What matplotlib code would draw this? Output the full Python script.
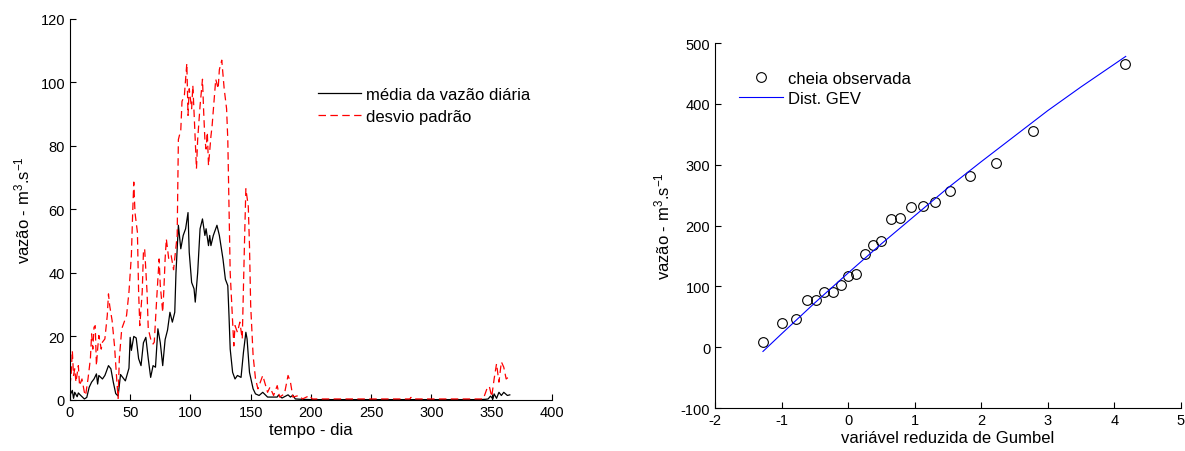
import matplotlib
matplotlib.use("Agg")
import matplotlib.pyplot as plt
import numpy as np

plt.rcParams.update({
    "font.family": ["Liberation Sans", "DejaVu Sans"],
    "mathtext.fontset": "custom",
    "mathtext.rm": "Liberation Sans",
    "mathtext.it": "Liberation Sans",
    "font.size": 10.5,
    "axes.unicode_minus": False,
    "xtick.direction": "in",
    "ytick.direction": "in",
})

# daily mean flow (m3/s)
mean_day = [0, 2, 3, 4, 6, 7, 9, 12, 14, 16, 18, 20, 22, 23, 24, 27, 29, 30, 32, 34,
            36, 38, 40, 42, 44, 46, 49, 50, 51, 53, 55, 57, 59, 61, 63, 65, 67, 69, 71, 73,
            75, 77, 79, 81, 83, 85, 87, 88, 90, 92, 94, 96, 98, 99, 101, 103, 104, 106, 108, 110,
            112, 113, 115, 116, 117, 119, 122, 124, 127, 129, 131, 132, 133, 135, 137, 139, 142, 144, 146, 147,
            149, 152, 154, 157, 160, 164, 172, 173, 176, 181, 183, 185, 187, 192, 200, 250, 300, 340, 345, 347,
            349, 351, 352, 354, 356, 358, 360, 363, 365]
mean_val = [1.4, 3.0, 0.5, 2.4, 1.0, 2.2, 1.4, 0.3, 0.8, 4.0, 5.6, 6.6, 8.2, 5.0, 7.7, 6.6, 7.7, 8.7, 10.8, 9.8,
            5.6, 2.0, 1.2, 8.0, 7.0, 6.0, 10.0, 19.7, 15.6, 20.0, 19.5, 13.0, 10.8, 18.0, 19.7, 13.0, 7.1, 10.8, 10.3, 22.4,
            18.0, 10.8, 19.0, 22.0, 27.6, 24.5, 27.6, 40.0, 55.0, 47.6, 51.8, 53.9, 59.0, 46.5, 37.0, 35.0, 30.8, 40.0, 53.9, 57.0,
            51.8, 53.9, 48.6, 51.8, 48.6, 51.8, 55.0, 51.8, 44.4, 38.0, 36.0, 26.6, 16.0, 8.7, 6.6, 7.7, 7.1, 15.0, 21.3, 19.2,
            8.7, 3.5, 1.9, 1.4, 2.4, 0.9, 0.9, 1.5, 0.6, 1.6, 0.9, 1.5, 0.3, 0.2, 0.1, 0.1, 0.1, 0.1, 0.2, 0.3,
            1.2, 0.3, 1.9, 0.5, 2.4, 1.4, 2.4, 1.4, 1.6]

# daily standard deviation
std_day = [0, 1, 2, 3, 4, 5, 7, 8, 10, 12, 13, 15, 17, 18, 19, 20, 21, 22, 23, 24,
           26, 27, 29, 31, 32, 33, 35, 37, 39, 40, 41, 43, 45, 47, 49, 51, 52, 53, 54, 56,
           57, 58, 60, 61, 62, 64, 65, 67, 69, 70, 72, 74, 75, 77, 78, 79, 80, 82, 84, 86,
           89, 90, 92, 93, 95, 97, 98, 99, 101, 102, 103, 105, 106, 108, 110, 111, 112, 113, 114, 115,
           117, 118, 120, 121, 123, 124, 126, 128, 130, 131, 132, 133, 135, 136, 137, 139, 141, 143, 145, 146,
           148, 149, 150, 152, 154, 156, 158, 160, 164, 166, 169, 172, 174, 178, 181, 183, 185, 190, 193, 199,
           201, 230, 282, 283, 284, 343, 346, 348, 350, 352, 354, 356, 358, 360, 362, 365]
std_val = [4.5, 7.7, 15.5, 7.7, 9.8, 5.6, 10.8, 4.5, 6.6, 2.4, 1.4, 6.6, 13.0, 20.8, 16.0, 22.9, 23.4, 10.8, 16.0, 20.3,
           16.0, 18.2, 19.2, 26.6, 33.4, 29.7, 25.0, 17.0, 5.6, 0.5, 13.0, 22.4, 24.5, 26.6, 34.0, 45.5, 58.0, 68.6, 59.0, 52.8,
           34.0, 23.4, 34.0, 46.5, 47.6, 34.0, 22.4, 19.2, 17.6, 18.2, 31.8, 44.4, 36.0, 27.6, 35.0, 44.4, 50.7, 44.4, 45.5, 41.0,
           51.8, 82.0, 85.0, 94.0, 96.0, 106.0, 89.6, 98.0, 91.7, 99.0, 90.6, 72.8, 82.0, 92.7, 101.0, 90.6, 82.0, 79.0, 84.3, 73.8,
           83.0, 86.4, 96.0, 101.0, 98.0, 104.0, 107.0, 98.0, 91.7, 82.0, 61.0, 40.0, 24.5, 17.0, 23.4, 21.3, 24.5, 19.2, 51.8, 66.5,
           61.0, 48.6, 29.7, 14.0, 6.6, 3.5, 5.6, 7.7, 2.4, 4.0, 1.4, 4.5, 0.9, 1.9, 7.7, 5.6, 0.9, 1.4, 0.3, 1.4,
           0.3, 0.3, 0.3, 0.8, 0.3, 0.3, 3.5, 4.3, 1.0, 6.6, 11.4, 5.6, 12.0, 10.3, 6.6, 7.5]

# annual floods vs Gumbel reduced variate (right panel)
gumbel_obs = [-1.28, -0.99, -0.78, -0.62, -0.49, -0.36, -0.23, -0.10, 0.00, 0.12, 0.25, 0.37,
              0.49, 0.64, 0.78, 0.94, 1.12, 1.31, 1.53, 1.83, 2.22, 2.78, 4.16]
flood_obs = [8, 40, 47, 77, 77, 91, 91, 103, 117, 120, 154, 168,
             174, 211, 212, 230, 232, 238, 256, 281, 302, 355, 466]
gumbel_fit = [-1.28, -1.0, -0.5, 0.0, 0.5, 1.0, 1.5, 2.0, 2.5, 3.0, 3.5, 4.17]
flood_fit = [-7, 22, 73, 122, 170, 216, 262, 305, 347, 389, 428, 478]

fig = plt.figure(figsize=(11.85, 4.52), dpi=100)
ax1 = fig.add_axes([0.059, 0.113, 0.4068, 0.843])
ax2 = fig.add_axes([0.6034, 0.0951, 0.3932, 0.8075])

ax1.plot(mean_day, mean_val, color="black", lw=0.9, label="média da vazão diária")
ax1.plot(std_day, std_val, color="red", lw=0.9, ls="--", dashes=(6, 3.5), label="desvio padrão")
ax1.set_xlim(0, 400)
ax1.set_ylim(0, 120)
ax1.set_xticks(np.arange(0, 401, 50))
ax1.set_yticks(np.arange(0, 121, 20))
ax1.set_xlabel("tempo - dia", fontsize=12, labelpad=2)
ax1.set_ylabel("vazão - m$^3$.s$^{-1}$", fontsize=12, labelpad=6)
ax1.legend(loc="upper left", bbox_to_anchor=(0.483, 0.86), frameon=False, fontsize=12,
           handlelength=2.6, handletextpad=0.3, labelspacing=0.4)

ax2.plot(gumbel_obs, flood_obs, ls="none", marker="o", ms=7, mfc="none", mec="black",
         mew=0.8, label="cheia observada")
ax2.plot(gumbel_fit, flood_fit, color="blue", lw=0.8, label="Dist. GEV")
ax2.set_xlim(-2, 5)
ax2.set_ylim(-100, 500)
ax2.set_xticks(np.arange(-2, 6, 1))
ax2.set_yticks(np.arange(-100, 501, 100))
ax2.set_xlabel("variável reduzida de Gumbel", fontsize=12, labelpad=2)
ax2.set_ylabel("vazão - m$^3$.s$^{-1}$", fontsize=12, labelpad=6)
ax2.legend(loc="upper left", bbox_to_anchor=(0.02, 0.965), frameon=False, fontsize=12,
           handlelength=2.6, handletextpad=0.3, labelspacing=0.3)

for ax in (ax1, ax2):
    ax.spines["top"].set_visible(False)
    ax.spines["right"].set_visible(False)
    ax.tick_params(length=4, width=0.8, labelsize=10.5)

fig.savefig("out.png", dpi=100)
